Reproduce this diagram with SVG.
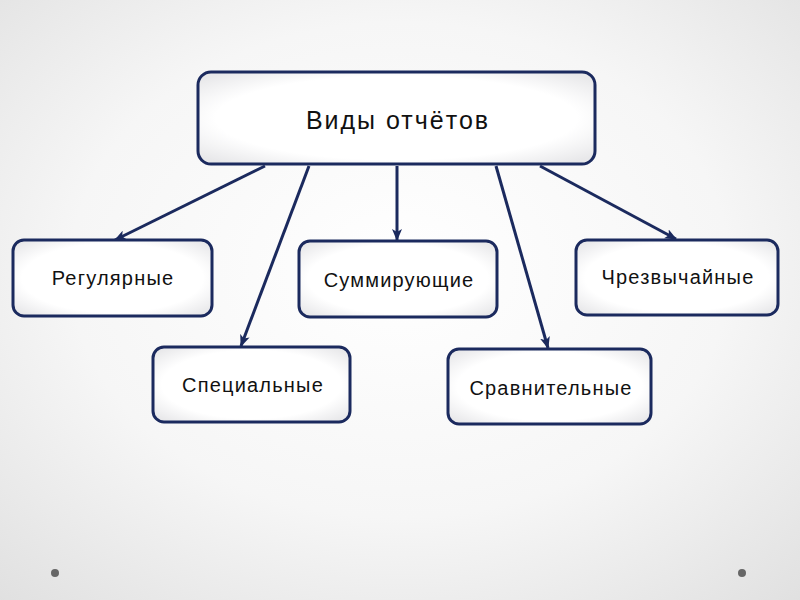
<svg xmlns="http://www.w3.org/2000/svg" width="800" height="600" viewBox="0 0 800 600">
<defs>
<radialGradient id="bg" cx="50%" cy="45%" r="75%">
<stop offset="0" stop-color="#ffffff"/>
<stop offset="0.55" stop-color="#f6f6f6"/>
<stop offset="1" stop-color="#e0e0e0"/>
</radialGradient>
<radialGradient id="box" cx="50%" cy="50%" r="65%">
<stop offset="0.7" stop-color="#ffffff"/>
<stop offset="1" stop-color="#e8e8ea"/>
</radialGradient>
<marker id="arr" viewBox="0 0 12 10" refX="11" refY="5" markerWidth="12" markerHeight="10" markerUnits="userSpaceOnUse" orient="auto">
<path d="M0,0 L12,5 L0,10 L3,5 Z" fill="#1b2a5e"/>
</marker>
<style>
.node rect{fill:url(#box);stroke:#1b2a5e;stroke-width:3}
.node text{font-family:"Liberation Sans",Arial,sans-serif;font-size:20px;letter-spacing:1.2px;fill:#111;text-anchor:middle;dominant-baseline:central}
#links line{stroke:#1b2a5e;stroke-width:3;marker-end:url(#arr)}
</style>
</defs>
<rect width="800" height="600" fill="url(#bg)"/>
<g id="links">
<line x1="265" y1="166" x2="115" y2="240"/>
<line x1="309" y1="166" x2="241" y2="346"/>
<line x1="397" y1="166" x2="397" y2="240"/>
<line x1="496" y1="166" x2="548" y2="348"/>
<line x1="540" y1="166" x2="676" y2="239"/>
</g>
<g id="root" class="node">
<rect x="198" y="72" width="397" height="92" rx="13"/>
<text x="398" y="120" style="font-size:25px;letter-spacing:2px">Виды отчётов</text>
</g>
<g id="regular" class="node">
<rect x="13" y="240" width="199" height="76" rx="11"/>
<text x="113" y="278">Регулярные</text>
</g>
<g id="summary" class="node">
<rect x="299" y="241" width="198" height="76" rx="11"/>
<text x="399" y="280">Суммирующие</text>
</g>
<g id="emergency" class="node">
<rect x="576" y="240" width="202" height="75" rx="11"/>
<text x="678" y="277">Чрезвычайные</text>
</g>
<g id="special" class="node">
<rect x="153" y="347" width="197" height="75" rx="11"/>
<text x="253" y="385">Специальные</text>
</g>
<g id="comparative" class="node">
<rect x="448" y="349" width="203" height="75" rx="11"/>
<text x="551" y="388">Сравнительные</text>
</g>
<circle cx="55" cy="573" r="4" fill="#666"/>
<circle cx="742" cy="573" r="4" fill="#666"/>
</svg>
